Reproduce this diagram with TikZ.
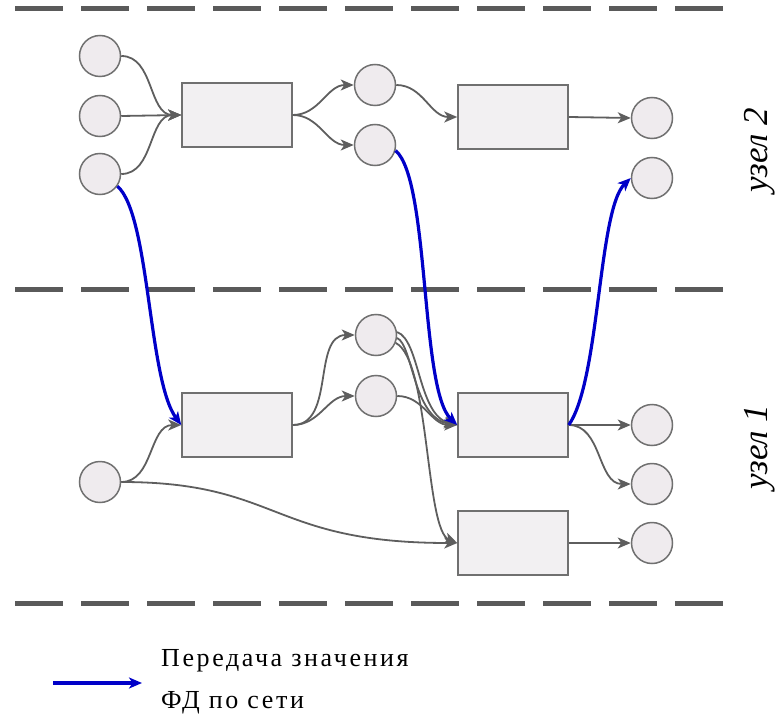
\documentclass[tikz,border=0pt]{standalone}
\usepackage{fontspec}
\setmainfont{Liberation Serif}
\newfontfamily\legfont[LetterSpace=10]{Liberation Serif}
\usetikzlibrary{arrows.meta}
\definecolor{linegray}{HTML}{5E5E5E}
\definecolor{edgegray}{HTML}{707070}
\definecolor{placefill}{HTML}{EFEBEE}
\definecolor{boxfill}{HTML}{F2F0F2}
\definecolor{dashgray}{HTML}{5A5A5A}
\definecolor{netblue}{HTML}{0000C8}
\tikzset{
  place/.style={circle, draw=edgegray, fill=placefill, line width=1.5pt, minimum size=41pt, inner sep=0pt},
  trans/.style={rectangle, draw=edgegray, fill=boxfill, line width=1.5pt, minimum width=110pt, minimum height=64pt, inner sep=0pt},
  arc/.style={draw=linegray, line width=1.8pt, -{Stealth[length=13pt,width=11pt,inset=3.5pt]}},
  net/.style={draw=netblue, line width=3.2pt, -{Stealth[length=13pt,width=11pt,inset=3.5pt]}},
  divider/.style={draw=dashgray, line width=5pt, dash pattern=on 48pt off 18pt},
  nodelabel/.style={font=\fontsize{35}{40}\selectfont\itshape, rotate=90, anchor=base, inner sep=0pt},
  legtext/.style={font=\legfont\fontsize{26}{30}\selectfont, anchor=base west, inner sep=0pt}
}
\begin{document}
\begin{tikzpicture}[x=1pt,y=1pt]
\useasboundingbox (0,0) rectangle (775,-719);
% dividers
\draw[divider] (15,-8.5) -- (727,-8.5);
\draw[divider] (15,-289) -- (727,-289);
\draw[divider] (15,-603) -- (727,-603);
% top (node 2)
\node[place] (a1) at (100,-56) {};
\node[place] (a2) at (100,-116) {};
\node[place] (a3) at (100,-174) {};
\node[trans] (T1) at (237,-115) {};
\node[place] (a4) at (375,-85) {};
\node[place] (a5) at (375,-145) {};
\node[trans] (T2) at (513,-117) {};
\node[place] (a6) at (652,-118) {};
\node[place] (a7) at (652,-178) {};
% bottom (node 1)
\node[place] (b1) at (376,-335) {};
\node[place] (b2) at (376,-396) {};
\node[trans] (T3) at (237,-425) {};
\node[place] (bL) at (100,-482) {};
\node[trans] (T4) at (513,-425) {};
\node[trans] (T5) at (513,-543) {};
\node[place] (c9) at (652,-425) {};
\node[place] (c10) at (652,-484) {};
\node[place] (c11) at (652,-543) {};
% gray arcs top
\draw[arc] (a1.east) to[out=0,in=180] (T1.west);
\draw[arc] (a2.east) -- (T1.west);
\draw[arc] (a3.east) to[out=0,in=180] (T1.west);
\draw[arc] (T1.east) to[out=0,in=180] (a4.west);
\draw[arc] (T1.east) to[out=0,in=180] (a5.west);
\draw[arc] (a4.east) to[out=0,in=180] (T2.west);
\draw[arc] (T2.east) -- (a6.west);
% gray arcs bottom
\draw[arc] (bL.east) to[out=0,in=180] (T3.west);
\draw[arc] (bL.east) .. controls (280,-482) and (270,-543) .. (T5.west);
\draw[arc] (T3.east) to[out=0,in=180] (b1.west);
\draw[arc] (T3.east) to[out=0,in=180] (b2.west);
\draw[arc] (b1.8) .. controls (420,-340) and (418,-415) .. (T4.west);
\draw[arc] (b1.-8) .. controls (413,-345) and (413,-418) .. (T4.west);
\draw[arc] (b1.-22) .. controls (430,-360) and (425,-530) .. (T5.west);
\draw[arc] (b2.east) to[out=0,in=180] (T4.west);
\draw[arc] (T4.east) -- (c9.west);
\draw[arc] (T4.east) to[out=0,in=180] (c10.west);
\draw[arc] (T5.east) -- (c11.west);
% network transfers
\draw[net] (a3.-35) .. controls (150,-215) and (148,-380) .. (T3.west);
\draw[net] (a5.-15) .. controls (430,-180) and (420,-390) .. (T4.west);
\draw[net] (T4.east) .. controls (600,-380) and (598,-210) .. (a7.west);
% labels
\node[nodelabel] (n2) at (767,-150) {узел 2};
\node[nodelabel] (n1) at (767,-447) {узел 1};
% legend
\coordinate (ls) at (53,-683);
\coordinate (le) at (142,-683);
\draw[net] (ls) -- (le);
\node[legtext] (l1) at (161,-666) {Передача значения};
\node[legtext] (l2) at (161,-708) {ФД по сети};
\end{tikzpicture}
\end{document}
